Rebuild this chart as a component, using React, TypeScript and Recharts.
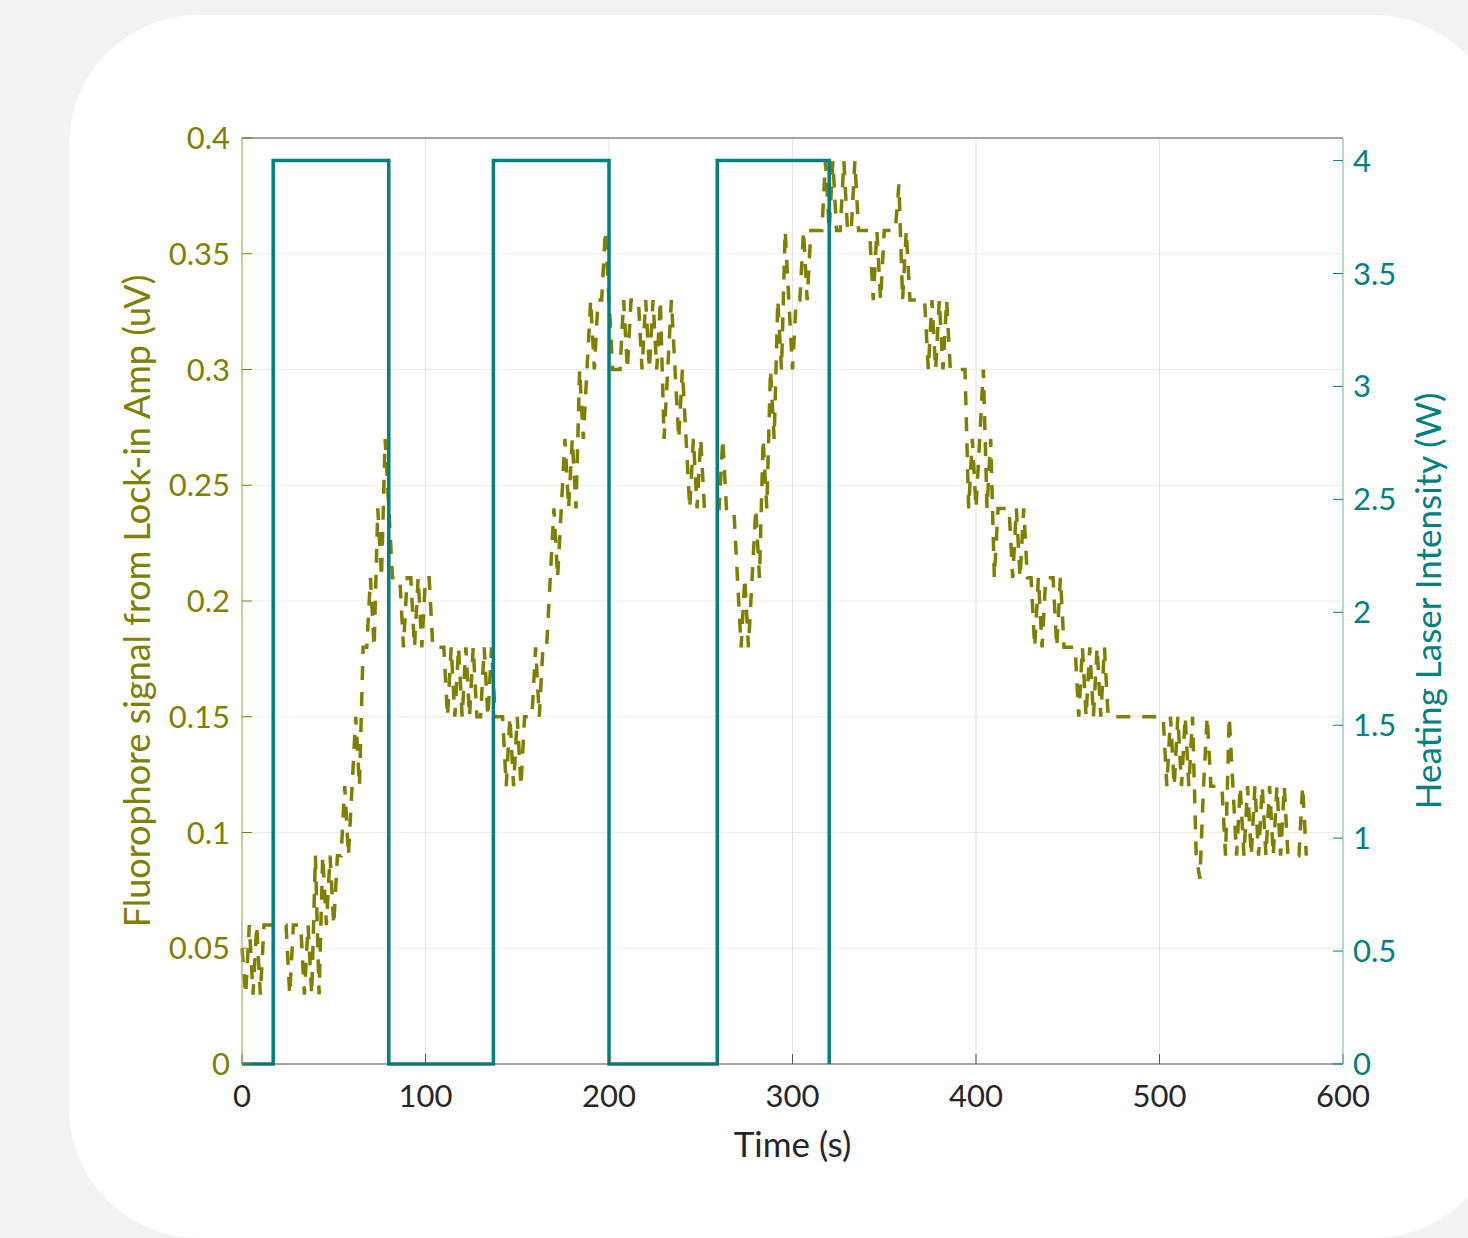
import { LineChart, Line, XAxis, YAxis, CartesianGrid, Label } from "recharts";

// fluorophore signal sampled every SAMPLE_STEP seconds, starting at t = 0
const SAMPLE_STEP = 2;

const fluorophore = [
  0.05, 0.03, 0.06, 0.03, 0.06, 0.03, 0.06, 0.06, 0.06, 0.06,
  0.06, 0.06, 0.06, 0.03, 0.06, 0.06, 0.06, 0.03, 0.06, 0.03,
  0.09, 0.03, 0.09, 0.06, 0.09, 0.06, 0.09, 0.09, 0.12, 0.09,
  0.12, 0.15, 0.12, 0.18, 0.18, 0.21, 0.18, 0.24, 0.21, 0.27,
  0.24, 0.21, 0.21, 0.21, 0.18, 0.21, 0.21, 0.18, 0.21, 0.18,
  0.21, 0.21, 0.18, 0.18, 0.18, 0.18, 0.15, 0.18, 0.15, 0.18,
  0.15, 0.18, 0.15, 0.18, 0.15, 0.15, 0.18, 0.15, 0.18, 0.15,
  0.15, 0.15, 0.12, 0.15, 0.12, 0.15, 0.12, 0.15, 0.15, 0.15,
  0.18, 0.15, 0.18, 0.18, 0.21, 0.24, 0.21, 0.24, 0.27, 0.24,
  0.27, 0.24, 0.3, 0.27, 0.3, 0.33, 0.3, 0.33, 0.33, 0.36,
  0.33, 0.3, 0.3, 0.3, 0.33, 0.3, 0.33, 0.33, 0.33, 0.3,
  0.33, 0.3, 0.33, 0.3, 0.33, 0.27, 0.3, 0.33, 0.3, 0.27,
  0.3, 0.27, 0.24, 0.27, 0.24, 0.27, 0.24, 0.24, 0.24, 0.24,
  0.24, 0.27, 0.24, 0.24, 0.24, 0.21, 0.18, 0.21, 0.18, 0.21,
  0.24, 0.21, 0.27, 0.24, 0.3, 0.27, 0.33, 0.3, 0.36, 0.33,
  0.3, 0.33, 0.33, 0.36, 0.33, 0.36, 0.36, 0.36, 0.36, 0.39,
  0.36, 0.39, 0.36, 0.36, 0.39, 0.36, 0.36, 0.39, 0.36, 0.36,
  0.36, 0.36, 0.33, 0.36, 0.33, 0.36, 0.36, 0.36, 0.36, 0.38,
  0.33, 0.36, 0.33, 0.33, 0.33, 0.33, 0.33, 0.3, 0.33, 0.3,
  0.33, 0.3, 0.33, 0.3, 0.3, 0.3, 0.3, 0.3, 0.24, 0.27,
  0.24, 0.27, 0.3, 0.24, 0.27, 0.21, 0.24, 0.24, 0.24, 0.24,
  0.21, 0.24, 0.21, 0.24, 0.21, 0.21, 0.18, 0.21, 0.18, 0.21,
  0.21, 0.21, 0.18, 0.21, 0.18, 0.18, 0.18, 0.18, 0.15, 0.18,
  0.15, 0.18, 0.15, 0.18, 0.15, 0.18, 0.15, 0.15, 0.15, 0.15,
  0.15, 0.15, 0.15, 0.15, 0.15, 0.15, 0.15, 0.15, 0.15, 0.15,
  0.15, 0.15, 0.12, 0.15, 0.12, 0.15, 0.12, 0.15, 0.12, 0.15,
  0.09, 0.08, 0.12, 0.15, 0.12, 0.12, 0.12, 0.12, 0.09, 0.15,
  0.12, 0.09, 0.12, 0.09, 0.12, 0.09, 0.12, 0.09, 0.12, 0.09,
  0.12, 0.09, 0.12, 0.09, 0.12, 0.09, 0.09, 0.09, 0.09, 0.12,
  0.09,
];

// heating laser on/off
const laserTime = [0, 17, 17, 80, 80, 137, 137, 200, 200, 259, 259, 320, 320];
const laserPower = [0, 0, 4, 4, 0, 0, 4, 4, 0, 0, 4, 4, 0];

const timeTicks = [0, 100, 200, 300, 400, 500, 600];
const signalTicks = [0, 0.05, 0.1, 0.15, 0.2, 0.25, 0.3, 0.35, 0.4];
const laserTicks = [0, 0.5, 1, 1.5, 2, 2.5, 3, 3.5, 4];

const OLIVE = "#808000";
const TEAL = "#008080";
const DARK = "#262626";

const signalData = fluorophore.map((v, i) => ({ t: i * SAMPLE_STEP, signal: v }));
const laserData = laserTime.map((t, i) => ({ t, laser: laserPower[i] }));

export default function App() {
  return (
    <div
      style={{
        position: "absolute",
        left: 0,
        top: 0,
        width: 1468,
        height: 1238,
        background: "#f2f2f2",
        overflow: "hidden",
      }}
    >
      <div
        style={{
          position: "absolute",
          left: 69,
          top: 15,
          width: 1434,
          height: 1223,
          borderRadius: 130,
          background: "#ffffff",
        }}
      />
      <div style={{ position: "absolute", left: 0, top: 0 }}>
        <LineChart
          width={1520}
          height={1238}
          margin={{ top: 128, right: 5, bottom: 12, left: 32 }}
          style={{ fontFamily: "Lato" }}
        >
          <CartesianGrid
            xAxisId="bottom"
            yAxisId="left"
            vertical={false}
            stroke="#ededdc"
          />
          <CartesianGrid
            xAxisId="bottom"
            yAxisId="left"
            horizontal={false}
            stroke="#e3e3e3"
          />

          <XAxis
            xAxisId="bottom"
            dataKey="t"
            type="number"
            domain={[0, 600]}
            ticks={timeTicks}
            interval={0}
            height={162}
            tickSize={-10}
            tickMargin={31}
            stroke="#555555"
            tick={{ fill: DARK, fontSize: 31 }}
          >
            <Label value="Time (s)" position="center" fill={DARK} fontSize={35} />
          </XAxis>
          <XAxis
            xAxisId="top"
            orientation="top"
            type="number"
            domain={[0, 600]}
            ticks={timeTicks}
            interval={0}
            height={10}
            tickSize={-10}
            tick={false}
            stroke="#555555"
          />

          <YAxis
            yAxisId="left"
            type="number"
            domain={[0, 0.4]}
            ticks={signalTicks}
            interval={0}
            width={210}
            tickSize={-10}
            tickMargin={22}
            axisLine={{ stroke: "#a8a84a" }}
            tickLine={{ stroke: OLIVE }}
            tick={{ fill: OLIVE, fontSize: 31 }}
          >
            <Label
              value="Fluorophore signal from Lock-in Amp (uV)"
              angle={-90}
              position="center"
              fill={OLIVE}
              fontSize={36}
            />
          </YAxis>
          <YAxis
            yAxisId="right"
            orientation="right"
            type="number"
            domain={[0, 4.1]}
            ticks={laserTicks}
            interval={0}
            width={172}
            tickSize={-10}
            tickMargin={20}
            axisLine={{ stroke: "#7fbfbf" }}
            tickLine={{ stroke: TEAL }}
            tick={{ fill: TEAL, fontSize: 31 }}
          >
            <Label
              value="Heating Laser Intensity (W)"
              angle={-90}
              position="center"
              fill={TEAL}
              fontSize={35}
            />
          </YAxis>

          <Line
            data={signalData}
            dataKey="signal"
            xAxisId="bottom"
            yAxisId="left"
            type="linear"
            stroke={OLIVE}
            strokeWidth={3.5}
            strokeDasharray="14 12"
            dot={false}
            activeDot={false}
            isAnimationActive={false}
          />
          <Line
            data={laserData}
            dataKey="laser"
            xAxisId="bottom"
            yAxisId="right"
            type="linear"
            stroke={TEAL}
            strokeWidth={3.5}
            dot={false}
            activeDot={false}
            isAnimationActive={false}
          />
        </LineChart>
      </div>
    </div>
  );
}
